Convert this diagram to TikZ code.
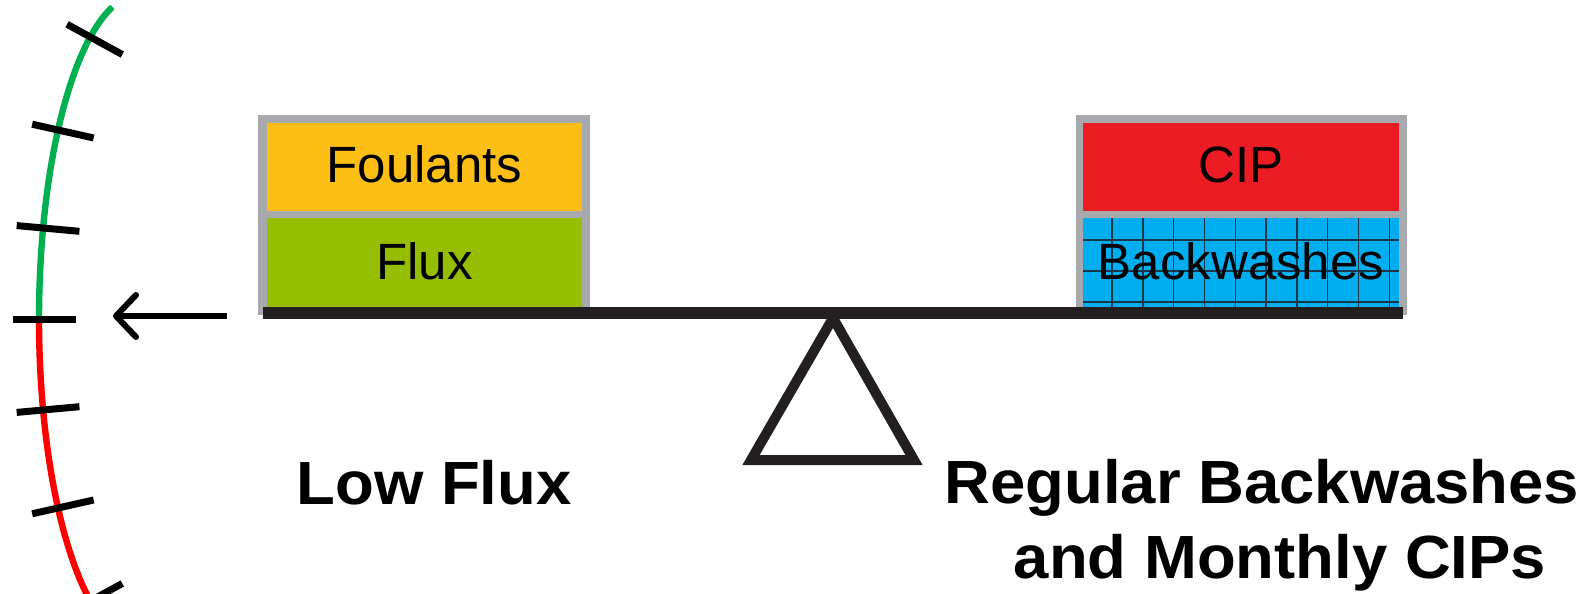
\documentclass[tikz,border=0pt]{standalone}
\usepackage{fontspec}
\setmainfont{Liberation Sans}
\newfontfamily\labelfont[FakeStretch=1.04]{Liberation Sans}
\usetikzlibrary{arrows.meta}

\definecolor{frameGray}{RGB}{167,169,172}
\definecolor{foulOrange}{RGB}{253,190,22}
\definecolor{fluxGreen}{RGB}{150,190,0}
\definecolor{cipRed}{RGB}{237,28,36}
\definecolor{bwBlue}{RGB}{0,174,239}
\definecolor{gridDark}{RGB}{25,55,75}
\definecolor{beamDark}{RGB}{35,31,32}
\definecolor{arcGreen}{RGB}{0,176,80}
\definecolor{arcRed}{RGB}{255,0,0}

\tikzset{
  boxtext/.style={anchor=base, inner sep=0pt, font=\fontsize{25.5pt}{30pt}\selectfont},
  bigtext/.style={anchor=base, inner sep=0pt, font=\labelfont\bfseries\fontsize{30.5pt}{36pt}\selectfont},
  tickmark/.style={line width=3.5pt, black},
  gauge/.style={line width=3.2pt},
  beamline/.style={line width=6pt, beamDark},
  pivot/.style={line width=5pt, beamDark, line join=miter},
  pointer/.style={line width=3pt, -{Straight Barb[length=10pt,width=21pt,line cap=round,line join=round]}},
  gridline/.style={line width=0.7pt, gridDark}
}

\begin{document}
\begin{tikzpicture}[x=0.5pt,y=-0.5pt]
\useasboundingbox (0,0) rectangle (1591,594);

% gauge on the left: green upper half, red lower half, with ticks
\begin{scope}
  \clip (0,0) rectangle (1591,594);
  \draw[gauge, arcGreen] plot[domain=-73.7:0, samples=60] ({141-102*cos(\x)},{319+325*sin(\x)});
  \draw[gauge, arcRed] plot[domain=0:64, samples=60] ({141-102*cos(\x)},{319+325*sin(\x)});
  \foreach \dy in {-282,-189,-91,0,91,189,282}{
    \pgfmathsetmacro\st{\dy/325}
    \pgfmathsetmacro\ct{sqrt(1-\st*\st)}
    \pgfmathsetmacro\px{141-102*\ct}
    \pgfmathsetmacro\nx{\ct*325/102}
    \pgfmathsetmacro\ny{-\st}
    \pgfmathsetmacro\nl{veclen(\nx,\ny)}
    \draw[tickmark] ({\px-26.5*\nx/\nl},{319+\dy-26.5*\ny/\nl}) -- ({\px+36.5*\nx/\nl},{319+\dy+36.5*\ny/\nl});
  }
\end{scope}

% pointer arrow
\coordinate (arrowtail) at (227,316);
\coordinate (arrowtip) at (113,316);
\draw[pointer] (arrowtail) -- (arrowtip);

% left stack
\fill[frameGray] (258,115) rectangle (590,315);
\fill[foulOrange] (267,123) rectangle (582,211);
\fill[fluxGreen] (267,218) rectangle (582,309);
\node[boxtext] (foul) at (424.5,182) {Foulants};
\node[boxtext] (flux) at (424.5,279) {Flux};

% right stack
\fill[frameGray] (1076,115) rectangle (1407,315);
\fill[cipRed] (1083,123) rectangle (1399,211);
\fill[bwBlue] (1083,218) rectangle (1399,309);
\foreach \k in {0,...,9}{
  \draw[gridline] ({1112+30.8*\k},218) -- ({1112+30.8*\k},309);
}
\foreach \yy in {240,271,302}{
  \draw[gridline] (1083,\yy) -- (1399,\yy);
}
\node[boxtext] (cip) at (1241,182) {CIP};
\node[boxtext] (bw) at (1241,279) {Backwashes};

% fulcrum and beam
\draw[pivot] (833,318) -- (914,460) -- (751,460) -- cycle;
\draw[beamline] (263,313) -- (1403,313);

% captions
\node[bigtext] (lowflux) at (434,504) {Low Flux};
\node[bigtext] (regular) at (1262,503) {Regular Backwashes};
\node[bigtext] (monthly) at (1280,578) {and Monthly CIPs};
\end{tikzpicture}
\end{document}
